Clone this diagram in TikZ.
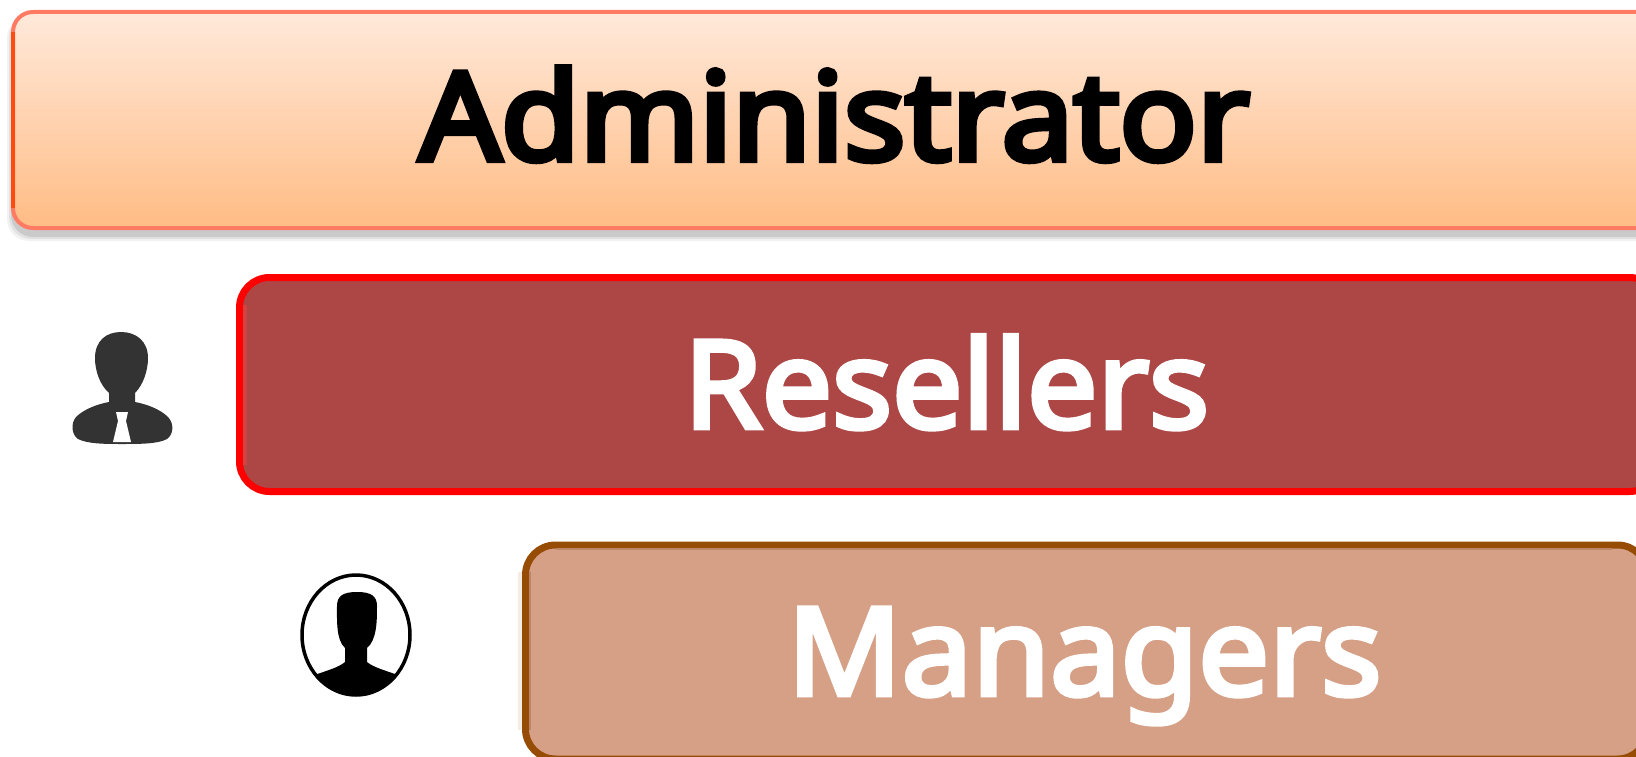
\documentclass[tikz,border=0pt]{standalone}
\usepackage{fontspec}
\usepackage{graphicx}
\setmainfont{Noto Sans}[FakeBold=4]
\newfontfamily\adminfont{Noto Sans}[FakeBold=5]
\definecolor{adminTop}{HTML}{FFE9DA}
\definecolor{adminBot}{HTML}{FFBC85}
\definecolor{adminEdge}{HTML}{FF7A62}
\definecolor{adminLeft}{HTML}{FF4A10}
\definecolor{resFill}{HTML}{AD4745}
\definecolor{resBand}{HTML}{D04340}
\definecolor{manFill}{HTML}{D6A086}
\definecolor{manEdge}{HTML}{974C06}
\definecolor{manBand}{HTML}{BE8468}
\definecolor{iconDark}{HTML}{333333}
\tikzset{
  tierbox/.style={rounded corners=#1, inner sep=0pt, outer sep=0pt, anchor=center},
  tierfont/.style={font=\fontsize{122}{122}\selectfont},
}
\begin{document}
\begin{tikzpicture}[x=1pt,y=-1pt]
\useasboundingbox (0,0) rectangle (1636,757);
\clip (0,0) rectangle (1636,757);
% Administrator drop shadow
\foreach \g/\o in {0/.05,2/.07,4/.10}{
  \fill[black,opacity=\o,rounded corners=22pt] (7+\g,16) rectangle (1660,241-\g);
}
% Administrator
\node[tierbox=20pt, tierfont, draw=adminEdge, line width=4pt,
      shade, top color=adminTop, bottom color=adminBot, text=black,
      minimum width=1643pt, minimum height=216pt,
      text height=80pt, text depth=0pt] (admin) at (834.5,120)
      {\resizebox{830pt}{\height}{\adminfont Administrator}};
\fill[adminLeft] (11,32) rectangle (15,208);
% Resellers
\node[tierbox=30pt, tierfont, draw=red, line width=7pt, fill=resFill, text=white,
      minimum width=1420pt, minimum height=214pt,
      text height=87pt, text depth=0pt] (resellers) at (949.5,384.5)
      {\hspace*{-6pt}\resizebox{525pt}{\height}{Resellers}};
\draw[resBand,line width=3.5pt] (244.8,465) -- (244.8,305);
% Managers
\fill[manEdge,opacity=.10] (518,572) rectangle (522,730);
\node[tierbox=30pt, tierfont, draw=manEdge, line width=7pt, fill=manFill, text=white,
      minimum width=1122pt, minimum height=214pt,
      text height=86pt, text depth=0pt] (managers) at (1086.5,652)
      {\hspace*{-4pt}\resizebox{594pt}{\height}{Managers}};
\draw[manBand,line width=2.5pt] (530,730) -- (530,572);
\draw[manBand,line width=2.5pt] (556,549) -- (1612,549);
% Reseller icon: suited person
\fill[iconDark] (121,332) .. controls (106,332) and (95,341) .. (95,358)
   .. controls (95,371) and (100,385) .. (109,393) -- (109,402)
   .. controls (98,404) and (84,409) .. (76,417)
   .. controls (71,423) and (71,434) .. (78,439)
   .. controls (88,444) and (105,444) .. (122,444)
   .. controls (140,444) and (158,444) .. (167,439)
   .. controls (174,434) and (174,423) .. (168,417)
   .. controls (160,409) and (146,404) .. (135,402) -- (135,393)
   .. controls (143,385) and (148,371) .. (148,358)
   .. controls (148,341) and (136,332) .. (121,332) -- cycle;
\fill[white] (116,412) -- (128,412) -- (126,421) -- (131,442) -- (113,442) -- (118,421) -- cycle;
% Manager icon: bust in an oval
\draw[black,line width=3.5pt] (356,635) ellipse [x radius=54, y radius=60];
\begin{scope}
\clip (356,635) ellipse [x radius=54, y radius=60];
\fill[black] (357,592) .. controls (343,592) and (337,596) .. (337,606)
   .. controls (337,620) and (336,640) .. (345,648) -- (345,662)
   .. controls (338,668) and (325,671) .. (312,676)
   -- (310,700) -- (402,700) -- (400,676)
   .. controls (388,671) and (374,668) .. (367,662) -- (367,648)
   .. controls (377,640) and (377,620) .. (377,606)
   .. controls (377,596) and (371,592) .. (357,592) -- cycle;
\end{scope}
\end{tikzpicture}
\end{document}
